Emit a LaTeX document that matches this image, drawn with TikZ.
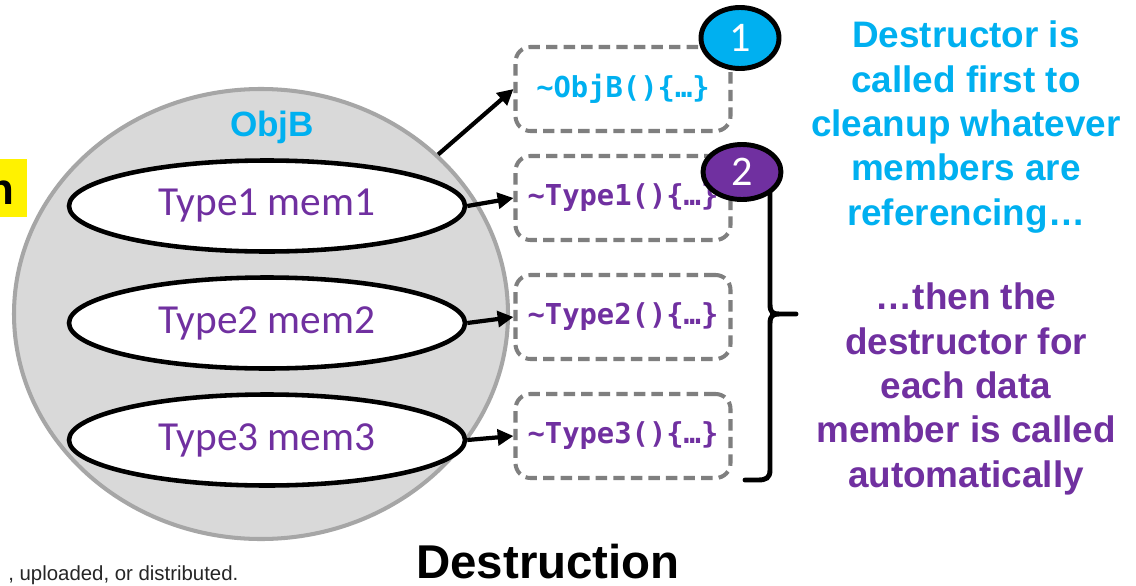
\documentclass[tikz,border=0pt]{standalone}
\usepackage{fontspec}
\setmainfont{Liberation Sans}
\newfontfamily\carlito{Carlito}
\newfontfamily\codefont{DejaVu Sans Mono}
\usetikzlibrary{shapes.geometric,arrows.meta}

\definecolor{cyanblue}{HTML}{00B0F0}
\definecolor{violet}{HTML}{7030A0}
\definecolor{shellfill}{HTML}{D9D9D9}
\definecolor{shelledge}{HTML}{A6A6A6}
\definecolor{dashgray}{HTML}{7F7F7F}

\newlength\pxl
\setlength\pxl{0.02cm}

\tikzset{
  shell/.style={ellipse, draw=shelledge, fill=shellfill, line width=2.3pt,
    inner sep=0pt, minimum width=494\pxl, minimum height=450\pxl},
  member/.style={ellipse, draw=black, fill=white, line width=2.6pt, inner sep=0pt,
    minimum width=396\pxl, minimum height=91\pxl, text=violet,
    font=\carlito\fontsize{23.5}{28}\selectfont},
  dtor/.style={draw=dashgray, line width=2.3pt, dash pattern=on 6.5pt off 3.5pt,
    rounded corners=8.5pt, fill=white, inner sep=0pt,
    minimum width=215\pxl, minimum height=84\pxl,
    font=\codefont\bfseries\fontsize{16.4}{20}\selectfont},
  badge/.style={ellipse, draw=black, line width=2.8pt, inner sep=0pt,
    minimum width=78\pxl, text=white,
    font=\carlito\fontsize{24}{28}\selectfont},
  link/.style={line width=2.4pt, -{Triangle[length=9pt,width=9pt]}},
  note/.style={align=center, font=\bfseries\fontsize{21}{25.2}\selectfont},
}

\begin{document}
\begin{tikzpicture}[x=0.02cm, y=-0.02cm]
  \clip (0,0) rectangle (1136,585);
  \fill[white] (0,0) rectangle (1136,585);

  % highlighted word, cut at the left edge
  \node[fill=yellow, minimum width=27\pxl, minimum height=58\pxl, inner sep=0pt,
        anchor=north west] (hl) at (0,159) {};
  \node[anchor=base east, inner sep=0pt, font=\bfseries\fontsize{25}{30}\selectfont]
        (hltext) at (15,204) {n};

  % the object and its members
  \node[shell] (obj) at (261,314) {};
  \node[text=cyanblue, font=\bfseries\fontsize{20}{24}\selectfont] (objlabel) at (272,127) {ObjB};
  \node[member] (m1) at (267,206) {Type1 mem1};
  \node[member] (m2) at (267,323) {Type2 mem2};
  \node[member] (m3) at (267,440) {Type3 mem3};

  % destructors
  \node[dtor, text=cyanblue] (d0) at (623,89)  {\textasciitilde ObjB()\{…\}};
  \node[dtor, text=violet]   (d1) at (623,198) {\textasciitilde Type1()\{…\}};
  \node[dtor, text=violet]   (d2) at (623,317) {\textasciitilde Type2()\{…\}};
  \node[dtor, text=violet]   (d3) at (623,436) {\textasciitilde Type3()\{…\}};

  \draw[link] (obj.42) -- (d0.west);
  \draw[link] (m1.east) -- (d1.west);
  \draw[link] (m2.east) -- (d2.west);
  \draw[link] (m3.east) -- (d3.west);

  % brace grouping the member destructors
  \coordinate (btop) at (770,190);
  \coordinate (btip) at (796,314);
  \coordinate (bend) at (745,480);
  \draw[line width=2.8pt, line cap=round]
    (btop) -- (770,304) .. controls (770,312) and (772,314) .. (780,314) -- (btip)
    (780,314) .. controls (772,314) and (770,316) .. (770,324) -- (770,470)
    .. controls (770,478) and (766,480) .. (758,480) -- (bend);

  % step numbers
  \node[badge, fill=cyanblue, minimum height=61\pxl] (s1) at (740,38) {1};
  \node[badge, fill=violet, minimum height=55\pxl] (s2) at (742,172) {2};

  % explanations
  \node[note, text=cyanblue] (n1) at (966,127)
    {Destructor is\\called first to\\cleanup whatever\\members are\\referencing…};
  \node[note, text=violet] (n2) at (966,389)
    {…then the\\destructor for\\each data\\member is called\\automatically};

  % title and footer
  \node[anchor=base, inner sep=0pt, font=\bfseries\fontsize{27}{31}\selectfont]
        (title) at (548,578) {Destruction};
  \node[anchor=base west, inner sep=0pt, text=black!85,
        font=\fontsize{11.6}{14}\selectfont] (foot) at (8,580) {, uploaded, or distributed.};
\end{tikzpicture}
\end{document}
